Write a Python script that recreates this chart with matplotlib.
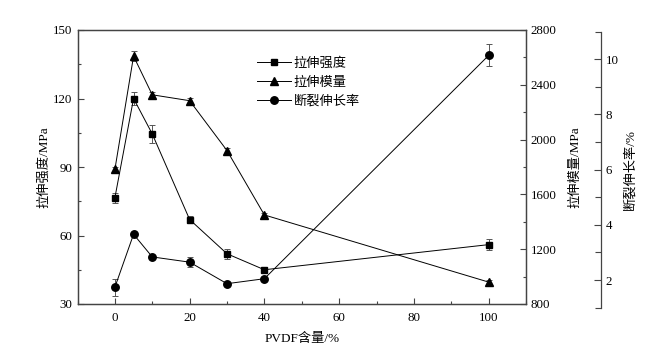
import matplotlib
matplotlib.use("Agg")
import matplotlib.pyplot as plt
from matplotlib.ticker import MultipleLocator

plt.rcParams['font.family'] = ['Liberation Serif', 'Noto Sans CJK SC']
plt.rcParams['axes.unicode_minus'] = False

# data
pvdf = [0, 5, 10, 20, 30, 40, 100]
strength = [76.5, 120, 104.5, 67, 52, 45, 56]
strength_err = [2.3, 2.8, 4.0, 1.5, 2.2, 1.0, 2.3]
modulus = [1782, 2609, 2327, 2284, 1920, 1450, 960]
modulus_err = [15, 35, 22, 22, 22, 15, 15]
elong = [1.74, 3.66, 2.84, 2.65, 1.87, 2.05, 10.14]
elong_err = [0.31, 0.05, 0.05, 0.18, 0.05, 0.05, 0.4]

W, H = 663, 354
fig = plt.figure(figsize=(W / 100, H / 100), dpi=100)

L, R, T, B = 77.5, 526, 30, 304
ax = fig.add_axes([L / W, 1 - B / H, (R - L) / W, (B - T) / H])
ax2 = ax.twinx()
# third axis sits a few px lower than the main box
T3, B3 = 31.7, 307.7
ax3 = fig.add_axes([L / W, 1 - B3 / H, (R - L) / W, (B3 - T3) / H])

spine_col = '#444444'
err_col = '#555555'
tick_fs = 9.3
lab_fs = 9.5

kw = dict(color='black', lw=0.7, ecolor=err_col, elinewidth=0.7, capsize=2.2, capthick=0.7)
h1 = ax.errorbar(pvdf, strength, yerr=strength_err, marker='s', ms=4.6, **kw)
h2 = ax2.errorbar(pvdf, modulus, yerr=modulus_err, marker='^', ms=5.6, **kw)
h3 = ax3.errorbar(pvdf, elong, yerr=elong_err, marker='o', ms=5.4, **kw)

ax.set_xlim(-10, 110)
ax.set_ylim(30, 150)
ax.xaxis.set_major_locator(MultipleLocator(20))
ax.xaxis.set_minor_locator(MultipleLocator(10))
ax.yaxis.set_major_locator(MultipleLocator(30))
ax.yaxis.set_minor_locator(MultipleLocator(15))
ax.tick_params(which='both', direction='in', labelsize=tick_fs, color=spine_col, width=0.8)
ax.tick_params(which='major', length=4)
ax.tick_params(which='minor', length=2.5)
ax.tick_params(axis='x', pad=6)

ax2.set_ylim(800, 2800)
ax2.yaxis.set_major_locator(MultipleLocator(400))
ax2.yaxis.set_minor_locator(MultipleLocator(200))
ax2.tick_params(which='both', direction='in', labelsize=tick_fs, color=spine_col, width=0.8)
ax2.tick_params(which='major', length=4)
ax2.tick_params(which='minor', length=2.5)

ax3.set_xlim(-10, 110)
ax3.set_ylim(1, 11)
ax3.patch.set_visible(False)
for s in ['left', 'top', 'bottom']:
    ax3.spines[s].set_visible(False)
ax3.spines['right'].set_position(('axes', (600.7 - L) / (R - L)))
ax3.spines['right'].set_color(spine_col)
ax3.spines['right'].set_linewidth(0.9)
ax3.set_xticks([])
ax3.yaxis.set_ticks_position('right')
ax3.yaxis.set_label_position('right')
ax3.yaxis.set_major_locator(MultipleLocator(2))
ax3.yaxis.set_minor_locator(MultipleLocator(2, offset=1))
ax3.tick_params(which='both', direction='in', labelsize=tick_fs, color=spine_col, width=0.8)
ax3.tick_params(which='major', length=5)
ax3.tick_params(which='minor', length=4)

for a in (ax, ax2):
    for s in a.spines.values():
        s.set_color(spine_col)
        s.set_linewidth(0.9)

ax.set_xlabel('PVDF含量/%', fontsize=lab_fs, labelpad=6)
ax.set_ylabel('拉伸强度/MPa', fontsize=lab_fs, labelpad=2)
ax2.set_ylabel('拉伸模量/MPa', fontsize=lab_fs, labelpad=9)
ax3.set_ylabel('断裂伸长率/%', fontsize=lab_fs, labelpad=4)

ax.legend([h1[0], h2[0], h3[0]], ['拉伸强度', '拉伸模量', '断裂伸长率'], loc='upper left',
          bbox_to_anchor=(0.4, 0.9), frameon=False, fontsize=lab_fs,
          handlelength=2.6, handletextpad=0.2, labelspacing=0.5,
          borderpad=0, borderaxespad=0)

fig.savefig('out.png', dpi=100)
